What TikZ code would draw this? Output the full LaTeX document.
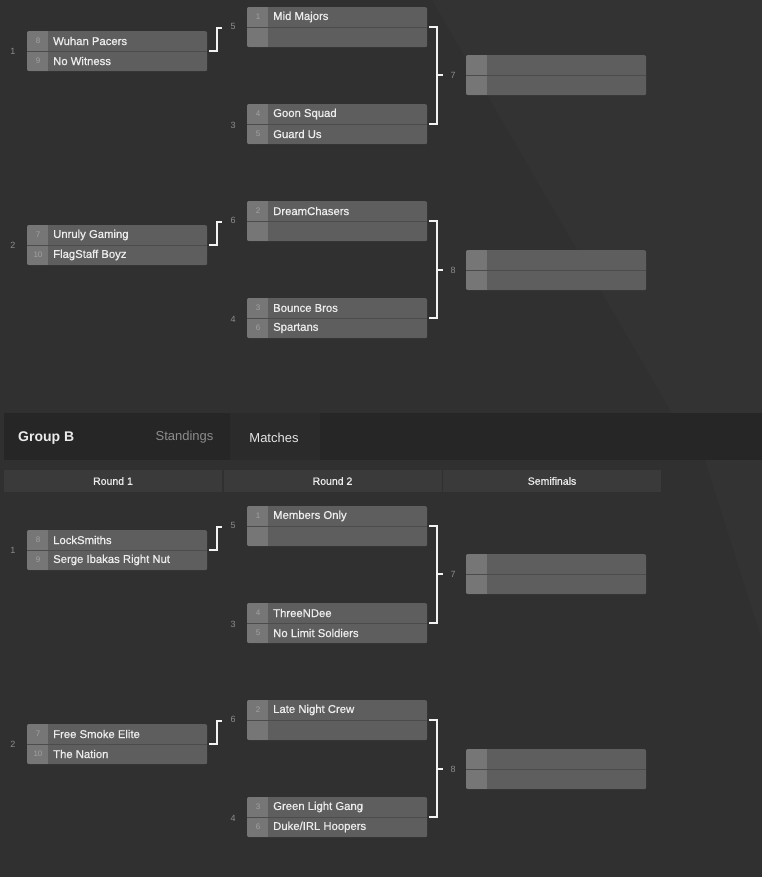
\documentclass[tikz,border=0pt]{standalone}
\usepackage{fontspec}
\setmainfont{Liberation Sans}
\newfontfamily\semib[FakeBold=0.7]{Liberation Sans}
\usetikzlibrary{calc}
\definecolor{bgc}{HTML}{303030}
\definecolor{bglite}{HTML}{333333}
\definecolor{rowc}{HTML}{5E5E5E}
\definecolor{seedc}{HTML}{767676}
\definecolor{divc}{HTML}{4C4C4C}
\definecolor{seedtxt}{HTML}{A2A2A2}
\definecolor{lbl}{HTML}{8C8C8C}
\definecolor{conn}{HTML}{F2F2F2}
\definecolor{hdr}{HTML}{262626}
\definecolor{tabc}{HTML}{2B2B2B}
\definecolor{cellc}{HTML}{3A3A3A}
\tikzset{
  mbox/.style={draw=none, fill=rowc, rounded corners=2, minimum width=180pt, minimum height=40pt, inner sep=0, anchor=north west},
  seedtext/.style={text=seedtxt, font=\fontsize{8}{9}\selectfont, inner sep=0},
  teamtext/.style={text=white!93!black, font=\semib\fontsize{11.3}{13}\selectfont, anchor=west, inner sep=0},
  numlbl/.style={text=lbl, font=\fontsize{9}{10}\selectfont, inner sep=0},
  connline/.style={draw=conn, line width=2pt},
  cell/.style={fill=cellc, minimum width=218pt, minimum height=22pt, inner sep=0, text=white!93!black, font=\semib\fontsize{10.5}{12}\selectfont},
}
% name, x, y, seed1, team1, seed2, team2
\newcommand\mymatch[7]{%
  \node[mbox] (#1) at (#2,#3) {};
  \begin{scope}
    \clip[rounded corners=2] (#2,#3) rectangle ++(180,40);
    \fill[seedc] (#2,#3) rectangle ++(21,40);
  \end{scope}
  \draw[divc, line width=1pt] (#1.west) -- (#1.east);
  \if\relax\detokenize{#4}\relax\else
    \node[seedtext] (#1-s1) at ($(#1.north west)+(11,10)$) {#4};\fi
  \if\relax\detokenize{#5}\relax\else
    \node[teamtext] (#1-t1) at ($(#1.north west)+(26,10)$) {#5};\fi
  \if\relax\detokenize{#6}\relax\else
    \node[seedtext] (#1-s2) at ($(#1.north west)+(11,30)$) {#6};\fi
  \if\relax\detokenize{#7}\relax\else
    \node[teamtext] (#1-t2) at ($(#1.north west)+(26,30)$) {#7};\fi
}
% prefix
\newcommand\myconnect[1]{%
  \draw[connline] ($(#1m1.east)+(2,0)$) -- ++(8,0) |- ($(#1m5.west)+(-25,1)$);
  \draw[connline] ($(#1m2.east)+(2,0)$) -- ++(8,0) |- ($(#1m6.west)+(-25,1)$);
  \draw[connline] ($(#1m5.east)+(2,0)$) -- ++(8,0) coordinate (#1j7) |- ($(#1m3.east)+(2,0)$);
  \draw[connline] (#1j7 |- #1s7.west) -- ++(6,0);
  \draw[connline] ($(#1m6.east)+(2,0)$) -- ++(8,0) coordinate (#1j8) |- ($(#1m4.east)+(2,0)$);
  \draw[connline] (#1j8 |- #1s8.west) -- ++(6,0);
  \node[numlbl] (#1l1) at ($(#1m1.west)+(-14,0)$) {1};
  \node[numlbl] (#1l2) at ($(#1m2.west)+(-14,0)$) {2};
  \node[numlbl] (#1l5) at ($(#1m5.west)+(-14,-1)$) {5};
  \node[numlbl] (#1l3) at ($(#1m3.west)+(-14,1)$) {3};
  \node[numlbl] (#1l6) at ($(#1m6.west)+(-14,-1)$) {6};
  \node[numlbl] (#1l4) at ($(#1m4.west)+(-14,1)$) {4};
  \node[numlbl] (#1l7) at ($(#1s7.west)+(-13,0)$) {7};
  \node[numlbl] (#1l8) at ($(#1s8.west)+(-13,0)$) {8};
}
\begin{document}
\begin{tikzpicture}[x=1pt, y=-1pt]
\useasboundingbox (0,0) rectangle (762,877);
\fill[bgc] (0,0) rectangle (762,877);
\fill[bglite] (432,0) -- (762,0) -- (762,413) -- (672,413) -- cycle;
\fill[bglite] (705,460) -- (762,460) -- (762,640) -- cycle;
% ---------- Group A (top) ----------
\mymatch{Am1}{27}{31}{8}{Wuhan Pacers}{9}{No Witness}
\mymatch{Am2}{27}{225}{7}{Unruly Gaming}{10}{FlagStaff Boyz}
\mymatch{Am5}{247}{7}{1}{Mid Majors}{}{}
\mymatch{Am3}{247}{104}{4}{Goon Squad}{5}{Guard Us}
\mymatch{Am6}{247}{201}{2}{DreamChasers}{}{}
\mymatch{Am4}{247}{298}{3}{Bounce Bros}{6}{Spartans}
\mymatch{As7}{466}{55}{}{}{}{}
\mymatch{As8}{466}{250}{}{}{}{}
\myconnect{A}
% ---------- Header ----------
\fill[hdr] (4,413) rectangle (762,460);
\fill[tabc] (230,413) rectangle (320,460);
\node[anchor=west, inner sep=0, text=white!92!black, font=\bfseries\fontsize{14}{16}\selectfont] (grp) at (18,438) {Group B};
\node[inner sep=0, text=lbl, font=\fontsize{13}{15}\selectfont] (stand) at (184.5,437.5) {Standings};
\node[inner sep=0, text=white!90!black, font=\fontsize{13}{15}\selectfont] (matches) at (274,437.5) {Matches};
\node[cell] (r1) at (113,481) {Round 1};
\node[cell] (r2) at (332.5,481) {Round 2};
\node[cell] (r3) at (552,481) {Semifinals};
% ---------- Group B ----------
\mymatch{Bm1}{27}{530}{8}{LockSmiths}{9}{Serge Ibakas Right Nut}
\mymatch{Bm2}{27}{724}{7}{Free Smoke Elite}{10}{The Nation}
\mymatch{Bm5}{247}{506}{1}{Members Only}{}{}
\mymatch{Bm3}{247}{603}{4}{ThreeNDee}{5}{No Limit Soldiers}
\mymatch{Bm6}{247}{700}{2}{Late Night Crew}{}{}
\mymatch{Bm4}{247}{797}{3}{Green Light Gang}{6}{Duke/IRL Hoopers}
\mymatch{Bs7}{466}{554}{}{}{}{}
\mymatch{Bs8}{466}{749}{}{}{}{}
\myconnect{B}
\end{tikzpicture}
\end{document}
